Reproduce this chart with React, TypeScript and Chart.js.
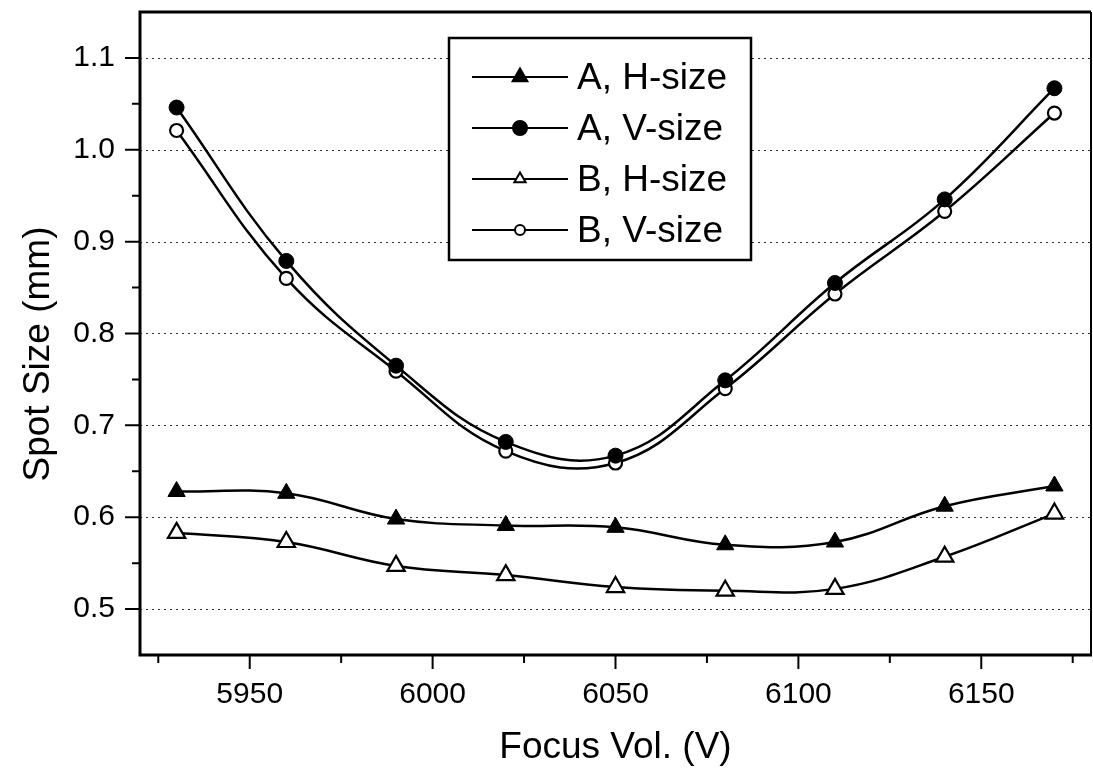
import React, { useEffect, useRef } from 'react';
import { Chart, registerables } from 'chart.js';

Chart.register(...registerables);

// ---------------- data ----------------
const focusVol = [5930, 5960, 5990, 6020, 6050, 6080, 6110, 6140, 6170];
const aHSize = [0.628, 0.626, 0.598, 0.591, 0.589, 0.570, 0.573, 0.612, 0.634];
const aVSize = [1.046, 0.879, 0.765, 0.682, 0.667, 0.749, 0.855, 0.946, 1.067];
const bHSize = [0.583, 0.573, 0.547, 0.537, 0.524, 0.520, 0.522, 0.557, 0.604];
const bVSize = [1.021, 0.860, 0.759, 0.672, 0.659, 0.740, 0.843, 0.933, 1.040];

const seriesLabels = ['A, H-size', 'A, V-size', 'B, H-size', 'B, V-size'];
const xTickValues = [5950, 6000, 6050, 6100, 6150];
const xMinorTickValues = [5925, 5975, 6025, 6075, 6125, 6175];
const yTickValues = [0.5, 0.6, 0.7, 0.8, 0.9, 1.0, 1.1];
const yMinorTickValues = [0.55, 0.65, 0.75, 0.85, 0.95, 1.05];
const xTitle = 'Focus Vol. (V)';
const yTitle = 'Spot Size (mm)';

const FONT = '"Liberation Sans", Arial, Helvetica, sans-serif';

type MarkerKind = { shape: 'triangle' | 'circle'; filled: boolean };
const markerKinds: MarkerKind[] = [
  { shape: 'triangle', filled: true },
  { shape: 'circle', filled: true },
  { shape: 'triangle', filled: false },
  { shape: 'circle', filled: false },
];

function drawMarker(ctx: CanvasRenderingContext2D, kind: MarkerKind, x: number, y: number, r: number) {
  ctx.save();
  ctx.beginPath();
  if (kind.shape === 'triangle') {
    const h = r * 1.5;
    const w = r * Math.sqrt(3);
    ctx.moveTo(x, y - r);
    ctx.lineTo(x + w / 2, y - r + h);
    ctx.lineTo(x - w / 2, y - r + h);
    ctx.closePath();
  } else {
    ctx.arc(x, y, r, 0, Math.PI * 2);
  }
  ctx.fillStyle = kind.filled ? '#000' : '#fff';
  ctx.fill();
  ctx.lineWidth = 2;
  ctx.strokeStyle = '#000';
  ctx.stroke();
  ctx.restore();
}

const decorPlugin = {
  id: 'decor',
  beforeDatasetsDraw(chart: any) {
    const { ctx, chartArea: a, scales } = chart;
    const ys = scales.y;
    ctx.save();
    ctx.strokeStyle = '#333';
    ctx.lineWidth = 1.2;
    ctx.setLineDash([2, 4]);
    yTickValues.forEach((v) => {
      const py = Math.round(ys.getPixelForValue(v)) + 0.5;
      ctx.beginPath();
      ctx.moveTo(a.left, py);
      ctx.lineTo(a.right, py);
      ctx.stroke();
    });
    ctx.restore();
  },
  afterDatasetsDraw(chart: any) {
    const { ctx, chartArea: a, scales } = chart;
    const xs = scales.x;
    const ys = scales.y;
    ctx.save();
    ctx.strokeStyle = '#000';
    ctx.lineCap = 'butt';
    // frame
    ctx.lineWidth = 3;
    ctx.beginPath();
    ctx.moveTo(a.left - 1.5, a.top);
    ctx.lineTo(a.right, a.top);
    ctx.moveTo(a.left, a.top);
    ctx.lineTo(a.left, a.bottom + 1.5);
    ctx.moveTo(a.left - 1.5, a.bottom);
    ctx.lineTo(a.right + 1, a.bottom);
    ctx.stroke();
    ctx.lineWidth = 2;
    ctx.beginPath();
    ctx.moveTo(a.right, a.top);
    ctx.lineTo(a.right, a.bottom);
    ctx.stroke();

    // ticks
    ctx.lineWidth = 2;
    ctx.beginPath();
    xTickValues.forEach((v) => {
      const px = xs.getPixelForValue(v);
      ctx.moveTo(px, a.bottom);
      ctx.lineTo(px, a.bottom + 14);
    });
    xMinorTickValues.forEach((v) => {
      const px = xs.getPixelForValue(v);
      ctx.moveTo(px, a.bottom);
      ctx.lineTo(px, a.bottom + 8);
    });
    yTickValues.forEach((v) => {
      const py = ys.getPixelForValue(v);
      ctx.moveTo(a.left, py);
      ctx.lineTo(a.left - 15, py);
    });
    yMinorTickValues.forEach((v) => {
      const py = ys.getPixelForValue(v);
      ctx.moveTo(a.left, py);
      ctx.lineTo(a.left - 8, py);
    });
    ctx.stroke();

    // axis titles
    ctx.fillStyle = '#000';
    ctx.font = `37px ${FONT}`;
    ctx.textAlign = 'center';
    ctx.textBaseline = 'alphabetic';
    ctx.fillText(xTitle, (a.left + a.right) / 2, 758);
    ctx.save();
    ctx.translate(49, 354);
    ctx.rotate(-Math.PI / 2);
    ctx.fillText(yTitle, 0, 0);
    ctx.restore();

    // legend
    const bx = 449, by = 38, bw = 302, bh = 222;
    ctx.fillStyle = '#fff';
    ctx.fillRect(bx, by, bw, bh);
    ctx.lineWidth = 2.5;
    ctx.strokeStyle = '#000';
    ctx.strokeRect(bx, by, bw, bh);
    const rows = [77, 128, 179, 230];
    const sizes = [8.5, 7, 6.5, 5];
    chart.data.datasets.forEach((ds: any, i: number) => {
      const ry = rows[i];
      ctx.lineWidth = 2;
      ctx.beginPath();
      ctx.moveTo(472, ry);
      ctx.lineTo(568, ry);
      ctx.stroke();
      drawMarker(ctx, markerKinds[i], 520, ry, sizes[i]);
      ctx.fillStyle = '#000';
      ctx.font = `37px ${FONT}`;
      ctx.textAlign = 'left';
      ctx.textBaseline = 'middle';
      ctx.fillText(ds.label, 577, ry + 2);
    });
    ctx.restore();
  },
};

function makeDataset(label: string, values: number[], kind: MarkerKind) {
  const isTri = kind.shape === 'triangle';
  return {
    label,
    data: focusVol.map((x, i) => ({ x, y: values[i] })),
    borderColor: '#000',
    borderWidth: 2.5,
    tension: 0.4,
    fill: false,
    pointStyle: isTri ? 'triangle' : 'circle',
    pointRadius: isTri ? 10 : kind.filled ? 7.5 : 6.5,
    pointBackgroundColor: kind.filled ? '#000' : '#fff',
    pointBorderColor: '#000',
    pointBorderWidth: kind.filled ? 1 : 2.2,
  };
}

function zeroPad(s: any) {
  s.paddingTop = 0;
  s.paddingBottom = 0;
  s.paddingLeft = 0;
  s.paddingRight = 0;
}

export default function App() {
  const canvasRef = useRef<HTMLCanvasElement | null>(null);

  useEffect(() => {
    const canvas = canvasRef.current;
    if (!canvas) return;
    const chart = new Chart(canvas, {
      type: 'line',
      data: {
        datasets: [
          makeDataset(seriesLabels[0], aHSize, markerKinds[0]),
          makeDataset(seriesLabels[1], aVSize, markerKinds[1]),
          makeDataset(seriesLabels[2], bHSize, markerKinds[2]),
          makeDataset(seriesLabels[3], bVSize, markerKinds[3]),
        ],
      },
      options: {
        responsive: false,
        animation: false,
        devicePixelRatio: 1,
        layout: { autoPadding: false, padding: { top: 12, right: 2, left: 0, bottom: 0 } },
        plugins: {
          legend: { display: false },
          tooltip: { enabled: false },
        },
        scales: {
          x: {
            type: 'linear',
            min: 5920,
            max: 6180,
            afterBuildTicks: (s: any) => {
              s.ticks = xTickValues.map((v) => ({ value: v }));
            },
            afterFit: (s: any) => {
              s.height = 124;
              zeroPad(s);
            },
            grid: { display: false, drawTicks: false },
            border: { display: false },
            ticks: {
              autoSkip: false,
              maxRotation: 0,
              padding: 22,
              color: '#000',
              font: { family: FONT, size: 30 },
              callback: (v: any) => String(v),
            },
          },
          y: {
            type: 'linear',
            min: 0.45,
            max: 1.15,
            afterBuildTicks: (s: any) => {
              s.ticks = yTickValues.map((v) => ({ value: v }));
            },
            afterFit: (s: any) => {
              s.width = 140;
              zeroPad(s);
            },
            grid: { display: false, drawTicks: false },
            border: { display: false },
            ticks: {
              padding: 25,
              color: '#000',
              font: { family: FONT, size: 30 },
              callback: (v: any) => Number(v).toFixed(1),
            },
          },
        },
      },
      plugins: [decorPlugin],
    } as any);
    return () => chart.destroy();
  }, []);

  return (
    <div
      style={{
        position: 'absolute',
        left: 0,
        top: 0,
        width: 1093,
        height: 779,
        overflow: 'hidden',
        background: '#fff',
      }}
    >
      <canvas ref={canvasRef} width={1093} height={779} style={{ display: 'block', width: 1093, height: 779 }} />
    </div>
  );
}
